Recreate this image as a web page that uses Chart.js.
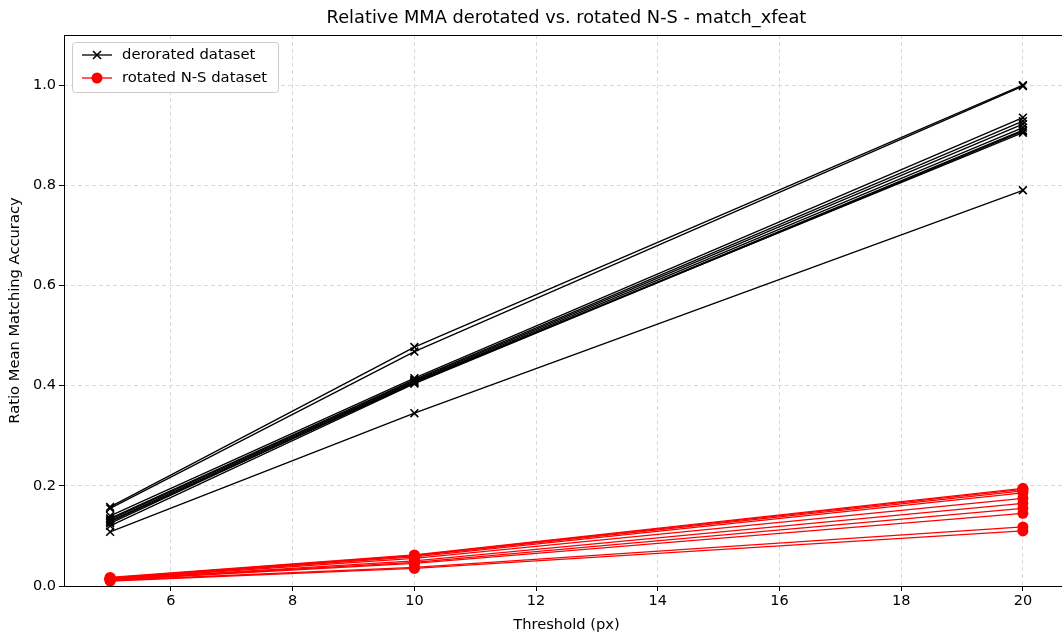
<!DOCTYPE html>
<html>
<head>
<meta charset="utf-8">
<script src="https://cdn.jsdelivr.net/npm/chart.js@4.4.1/dist/chart.umd.min.js"></script>
<style>
  html, body { margin: 0; padding: 0; background: #fff; overflow: hidden; width: 1062px; height: 637px; }
  #wrap { width: 1076px; height: 637px; }
</style>
</head>
<body>
<div id="wrap"><canvas id="c" width="1076" height="637"></canvas></div>
<script>
const thresholds = [5, 10, 20];
const xTicks = [6, 8, 10, 12, 14, 16, 18, 20];
const yTicks = [0.0, 0.2, 0.4, 0.6, 0.8, 1.0];

const derotated = [
  [0.158, 0.477, 1.000],
  [0.155, 0.468, 0.998],
  [0.140, 0.415, 0.935],
  [0.135, 0.412, 0.928],
  [0.133, 0.410, 0.922],
  [0.130, 0.408, 0.915],
  [0.128, 0.405, 0.910],
  [0.125, 0.407, 0.905],
  [0.120, 0.404, 0.908],
  [0.108, 0.345, 0.790]
];
const rotatedNS = [
  [0.017, 0.062, 0.195],
  [0.016, 0.061, 0.193],
  [0.015, 0.060, 0.190],
  [0.015, 0.058, 0.186],
  [0.014, 0.055, 0.175],
  [0.013, 0.050, 0.165],
  [0.013, 0.047, 0.155],
  [0.012, 0.045, 0.145],
  [0.011, 0.037, 0.118],
  [0.010, 0.035, 0.110]
];

const titleText = 'Relative MMA derotated vs. rotated N-S - match_xfeat';
const xLabel = 'Threshold (px)';
const yLabel = 'Ratio Mean Matching Accuracy';
const legendLabels = ['derorated dataset', 'rotated N-S dataset'];
const FONT = '"DejaVu Sans", sans-serif';

function toPts(vals) { return thresholds.map((x, i) => ({ x: x, y: vals[i] })); }

const datasets = [];
derotated.forEach(v => datasets.push({
  data: toPts(v), borderColor: '#000', backgroundColor: '#000', borderWidth: 1.3,
  pointStyle: 'crossRot', pointRadius: 5.5, pointBorderWidth: 1.6, pointBorderColor: '#000', fill: false
}));
rotatedNS.forEach(v => datasets.push({
  data: toPts(v), borderColor: '#ff0000', backgroundColor: '#ff0000', borderWidth: 1.3,
  pointStyle: 'circle', pointRadius: 5.5, pointBorderWidth: 0, fill: false
}));

const decor = {
  id: 'decor',
  afterDraw(chart) {
    const ctx = chart.ctx, a = chart.chartArea;
    ctx.save();
    ctx.strokeStyle = '#000'; ctx.lineWidth = 1; ctx.setLineDash([]);
    ctx.strokeRect(Math.round(a.left) + 0.5, Math.round(a.top) + 0.5, Math.round(a.right - a.left), Math.round(a.bottom - a.top));
    ctx.fillStyle = '#000';
    ctx.font = '17.8px ' + FONT;
    ctx.textAlign = 'center'; ctx.textBaseline = 'middle';
    ctx.fillText(titleText, (a.left + a.right) / 2, 18);
    ctx.font = '14.7px ' + FONT;
    ctx.fillText(xLabel, (a.left + a.right) / 2, 625);
    ctx.save();
    ctx.translate(15, (a.top + a.bottom) / 2);
    ctx.rotate(-Math.PI / 2);
    ctx.fillText(yLabel, 0, 0);
    ctx.restore();
    // legend
    const lx = a.left + 8, ly = a.top + 7, lw = 206, lh = 50;
    ctx.fillStyle = 'rgba(255,255,255,0.8)';
    ctx.strokeStyle = '#cccccc'; ctx.lineWidth = 1;
    ctx.beginPath();
    if (ctx.roundRect) ctx.roundRect(lx + 0.5, ly + 0.5, lw, lh, 3); else ctx.rect(lx + 0.5, ly + 0.5, lw, lh);
    ctx.fill(); ctx.stroke();
    const rows = [ly + 13, ly + 36];
    ctx.font = '14.8px ' + FONT; ctx.textAlign = 'left'; ctx.textBaseline = 'middle';
    ctx.strokeStyle = '#000'; ctx.lineWidth = 1.3;
    ctx.beginPath(); ctx.moveTo(lx + 10, rows[0]); ctx.lineTo(lx + 40, rows[0]); ctx.stroke();
    ctx.lineWidth = 1.6;
    const cx = lx + 25, r = 4;
    ctx.beginPath(); ctx.moveTo(cx - r, rows[0] - r); ctx.lineTo(cx + r, rows[0] + r);
    ctx.moveTo(cx - r, rows[0] + r); ctx.lineTo(cx + r, rows[0] - r); ctx.stroke();
    ctx.fillStyle = '#000'; ctx.fillText(legendLabels[0], lx + 50, rows[0]);
    ctx.strokeStyle = '#ff0000'; ctx.lineWidth = 1.3;
    ctx.beginPath(); ctx.moveTo(lx + 10, rows[1]); ctx.lineTo(lx + 40, rows[1]); ctx.stroke();
    ctx.fillStyle = '#ff0000';
    ctx.beginPath(); ctx.arc(cx, rows[1], 5.5, 0, Math.PI * 2); ctx.fill();
    ctx.fillStyle = '#000'; ctx.fillText(legendLabels[1], lx + 50, rows[1]);
    ctx.restore();
  }
};

new Chart(document.getElementById('c'), {
  type: 'line',
  data: { datasets: datasets },
  options: {
    responsive: false,
    animation: false,
    layout: { padding: { top: 35, right: 3, left: 0, bottom: 0 } },
    plugins: { legend: { display: false }, title: { display: false }, tooltip: { enabled: false } },
    scales: {
      x: {
        type: 'linear', min: 4.242, max: 20.756,
        afterBuildTicks: s => { s.ticks = xTicks.map(v => ({ value: v })); },
        afterFit: s => { s.height = 51; },
        ticks: { color: '#000', font: { family: FONT, size: 14.5 }, padding: 2, maxRotation: 0, autoSkip: false,
                 callback: v => String(v) },
        grid: { color: '#d9d9d9', lineWidth: 1, tickColor: '#000', tickLength: 5, tickWidth: 1 },
        border: { display: false, dash: [4, 3] }
      },
      y: {
        type: 'linear', min: 0, max: 1.1,
        afterBuildTicks: s => { s.ticks = yTicks.map(v => ({ value: v })); },
        afterFit: s => { s.width = 64; },
        ticks: { color: '#000', font: { family: FONT, size: 14.5 }, padding: 3, autoSkip: false,
                 callback: v => Number(v).toFixed(1) },
        grid: { color: '#d9d9d9', lineWidth: 1, tickColor: '#000', tickLength: 5, tickWidth: 1 },
        border: { display: false, dash: [4, 3] }
      }
    }
  },
  plugins: [decor]
});
</script>
</body>
</html>
